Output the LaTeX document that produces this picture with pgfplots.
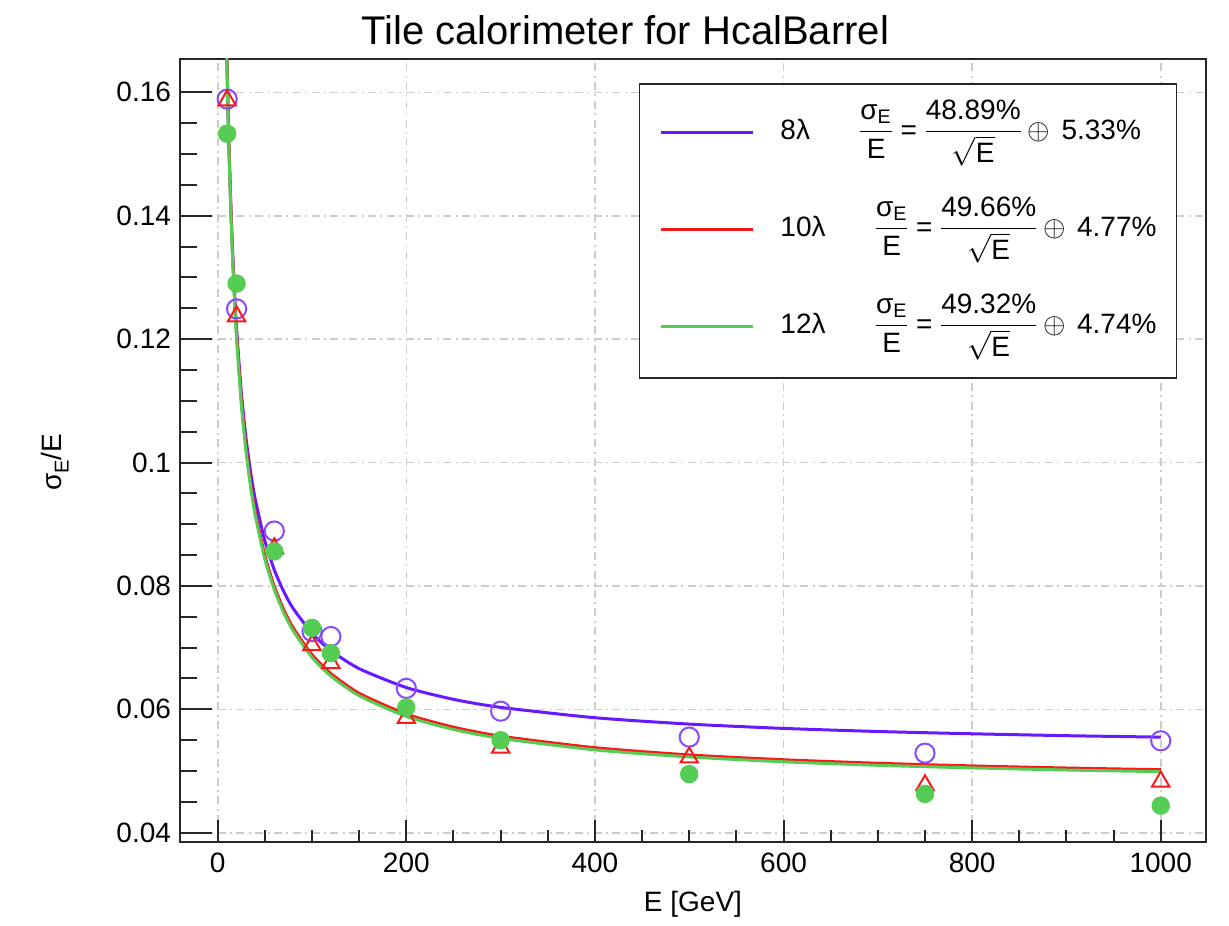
\documentclass[border=0pt]{standalone}
\usepackage{pgfplots}
\pgfplotsset{compat=1.18}
\usepackage{amsmath}
\usepackage{fontspec}
\setmainfont{Liberation Sans}
\definecolor{cblue}{RGB}{105,25,255}
\definecolor{cblueM}{RGB}{135,75,255}
\definecolor{cred}{RGB}{250,25,25}
\definecolor{cgreen}{RGB}{85,205,85}
\definecolor{cgrid}{RGB}{205,205,205}

\pgfplotstableread{
E s
10 0.1589
20 0.1249
60 0.0889
100 0.0726
120 0.0718
200 0.0634
300 0.0597
500 0.0555
750 0.0529
1000 0.0549
}\dataA
\pgfplotstableread{
E s
10 0.1587
20 0.1237
60 0.0861
100 0.0704
120 0.0675
200 0.0586
300 0.0538
500 0.0522
750 0.0477
1000 0.0483
}\dataB
\pgfplotstableread{
E s
10 0.1533
20 0.1290
60 0.0856
100 0.0732
120 0.0691
200 0.0603
300 0.0550
500 0.0495
750 0.0463
1000 0.0444
}\dataC
\pgfplotstableread{
E a b c
9 0.17146 0.17227 0.17110
10 0.16353 0.16412 0.16301
11 0.15675 0.15714 0.15608
12 0.15086 0.15108 0.15006
14 0.14112 0.14103 0.14008
16 0.13334 0.13300 0.13210
18 0.12696 0.12640 0.12554
20 0.12162 0.12085 0.12004
25 0.11136 0.11018 0.10944
30 0.10396 0.10245 0.10176
35 0.09834 0.09655 0.09590
40 0.09389 0.09187 0.09126
50 0.08730 0.08490 0.08433
60 0.08261 0.07991 0.07938
70 0.07909 0.07615 0.07565
80 0.07635 0.07320 0.07272
100 0.07233 0.06886 0.06841
120 0.06952 0.06580 0.06538
150 0.06659 0.06260 0.06220
200 0.06353 0.05923 0.05885
250 0.06162 0.05711 0.05674
300 0.06032 0.05565 0.05530
400 0.05864 0.05378 0.05343
500 0.05761 0.05261 0.05228
600 0.05691 0.05183 0.05150
700 0.05641 0.05126 0.05093
800 0.05604 0.05083 0.05051
900 0.05573 0.05049 0.05017
1000 0.05550 0.05022 0.04990
}\fits

\newcommand{\reso}[2]{$\dfrac{\text{σ}_{\text{E}}}{\text{E}}\mkern4mu\text{=}\mkern4mu\dfrac{\text{#1\%}}{\sqrt{\text{E}}}\mkern-1mu\oplus\mkern3mu\text{#2\%}$}

\begin{document}
\begin{tikzpicture}
\path[use as bounding box] (-90pt,-41.5pt) rectangle (524.5pt,421pt);
\begin{axis}[
  scale only axis, width=513pt, height=391.5pt,
  xmin=-40, xmax=1048, ymin=0.0385, ymax=0.1654,
  axis line style={line width=1pt, black!85},
  xtick={0,200,400,600,800,1000}, xticklabels={},
  minor x tick num=3,
  x tick style={draw=none},
  ytick={0.04,0.06,0.08,0.1,0.12,0.14,0.16},
  yticklabels={0.04,0.06,0.08,0.1,0.12,0.14,0.16},
  minor y tick num=3,
  ytick pos=left, xtick pos=bottom,
  tick align=inside,
  major tick length=16pt, minor tick length=8.5pt,
  y tick style={line width=1pt, black!85},
  ticklabel style={font=\fontsize{14}{16}\selectfont},
  yticklabel style={xshift=-1pt},
  grid=major,
  major grid style={cgrid, line width=0.8pt, dash pattern=on 4pt off 2.2pt on 1pt off 2.2pt},
  title={Tile calorimeter for HcalBarrel},
  title style={font=\fontsize{20}{22}\selectfont, at={(axis description cs:0.434,1.022)}, anchor=center},
  ylabel={σ\raisebox{-0.5ex}{\fontsize{10}{11}\selectfont E}/E},
  ylabel style={font=\fontsize{14}{16}\selectfont, at={(axis description cs:-0.122,0.485)}, anchor=center},
  legend style={at={(axis description cs:0.972,0.969)}, anchor=north east,
     draw=black!85, line width=0.8pt, inner xsep=10pt, inner ysep=6.5pt,
     font=\fontsize{14}{16}\selectfont, row sep=11.5pt,
     nodes={inner xsep=0pt, inner ysep=1pt, anchor=base west, text height=20pt, text depth=15pt}},
  legend image code/.code={\draw[#1, line width=1.5pt] (0pt,3.5pt) -- (46pt,3.5pt);},
  clip=true,
]
\addplot[cblue, line width=1.5pt, smooth, tension=0.4] table[x=E, y=a] {\fits};
\addlegendentry{\hspace{13pt}8λ\hspace{24pt}\reso{48.89}{5.33}\hspace{12pt}}
\addplot[cred, line width=1.5pt, smooth, tension=0.4] table[x=E, y=b] {\fits};
\addlegendentry{\hspace{13pt}10λ\hspace{24pt}\reso{49.66}{4.77}\hspace{12pt}}
\addplot[cgreen, line width=1.5pt, smooth, tension=0.4] table[x=E, y=c] {\fits};
\addlegendentry{\hspace{13pt}12λ\hspace{24pt}\reso{49.32}{4.74}\hspace{12pt}}
\addplot[only marks, mark=o, mark size=4.8pt, cblueM, mark options={line width=1pt}, forget plot] table[x=E, y=s] {\dataA};
\addplot[only marks, mark=triangle, mark size=5pt, cred, mark options={line width=1pt}, forget plot] table[x=E, y=s] {\dataB};
\addplot[only marks, mark=*, mark size=4.4pt, cgreen, mark options={draw=cgreen, fill=cgreen}, forget plot] table[x=E, y=s] {\dataC};
\end{axis}
\begin{axis}[
  scale only axis, width=513pt, height=391.5pt,
  xmin=-40, xmax=1048, ymin=0.0385, ymax=0.1654,
  axis y line=none, axis x line*=bottom,
  x axis line style={draw=none, -},
  xtick={0,200,400,600,800,1000},
  xticklabels={0,200,400,600,800,1000},
  minor x tick num=3,
  tick align=inside,
  major tick length=11pt, minor tick length=6pt,
  x tick style={line width=1pt, black!85},
  xticklabel style={font=\fontsize{14}{16}\selectfont, yshift=-2pt},
  xlabel={E [GeV]},
  xlabel style={font=\fontsize{14}{16}\selectfont, at={(axis description cs:0.5,-0.079)}, anchor=center},
]
\addplot[draw=none] coordinates {(0,0.1)};
\end{axis}
\end{tikzpicture}
\end{document}
